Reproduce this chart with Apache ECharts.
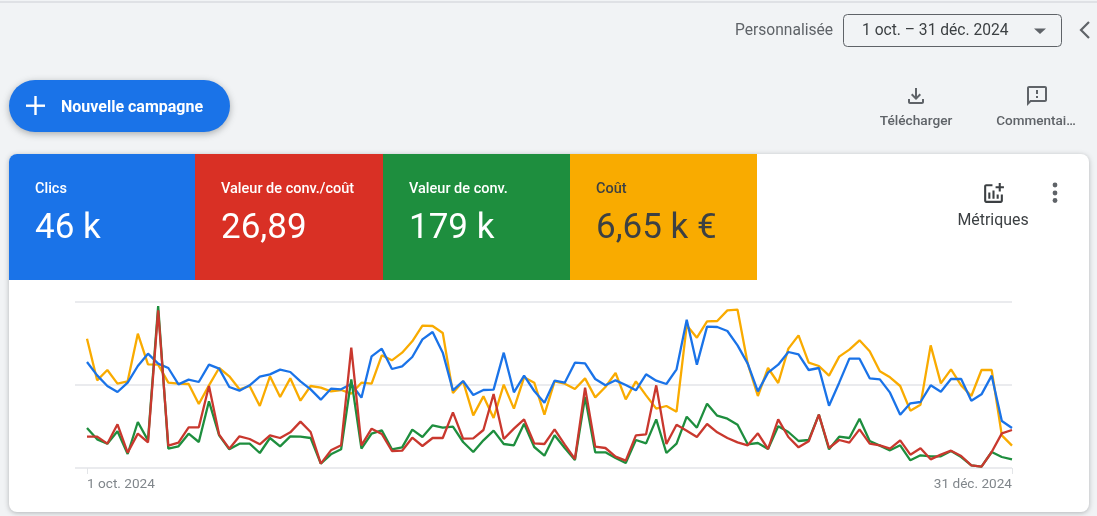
<!DOCTYPE html>
<html lang="fr">
<head>
<meta charset="utf-8">
<style>
  html, body { margin: 0; padding: 0; background: #f1f3f5; }
  #main { width: 1097px; height: 516px; }
</style>
<script src="https://cdn.jsdelivr.net/npm/echarts@6/dist/echarts.min.js"></script>
</head>
<body>
<div id="main"></div>
<script>
// values, in arbitrary units (the chart shows no y labels)
var clics = [318,278,246,228,256,306,343,313,300,251,265,258,310,298,243,232,248,274,281,295,288,260,236,205,238,236,252,211,335,358,297,305,333,386,408,346,233,261,219,234,235,346,227,277,231,196,262,256,316,314,267,248,263,249,233,281,262,252,296,445,310,424,423,411,368,313,230,286,310,348,341,294,300,187,256,328,328,269,266,226,160,194,198,248,229,267,267,202,221,277,141,120];
var cout = [388,263,294,253,260,403,311,310,256,253,252,192,248,300,275,236,246,186,275,213,269,202,246,241,230,234,223,256,253,338,323,346,380,427,426,405,225,260,158,215,150,250,178,272,256,160,260,253,237,269,212,243,285,206,260,218,178,186,169,428,391,440,441,473,475,313,216,300,255,358,398,316,306,277,334,355,383,350,290,272,246,172,190,368,254,296,248,216,294,294,98,67];
var valeurConv = [120,86,73,110,42,138,83,486,58,65,103,78,200,98,56,73,73,45,90,65,95,94,90,13,41,56,266,58,103,113,56,62,115,93,128,121,124,78,48,83,112,72,68,133,63,37,98,60,24,213,47,47,30,15,84,74,146,45,73,154,121,193,157,148,130,71,75,57,125,108,81,84,160,56,94,90,148,81,67,53,68,23,38,35,35,51,33,8,4,48,33,26];
var valeurCout = [94,94,73,131,46,103,77,473,67,76,122,122,246,100,58,95,87,71,98,90,107,139,108,13,53,68,361,68,118,102,51,52,91,66,90,90,167,88,89,114,222,87,118,146,74,72,116,70,27,241,64,60,34,22,98,101,248,72,130,112,93,132,107,90,77,68,104,57,146,93,62,80,160,60,84,76,116,73,68,58,83,40,59,26,40,52,36,8,4,48,104,114];

var moisJours = [31, 30, 31];
var moisNoms = ["oct.", "nov.", "déc."];
var days = [];
moisJours.forEach(function (n, m) {
  for (var d = 1; d <= n; d++) days.push(d + " " + moisNoms[m] + " 2024");
});

var tiles = [
  { label: "Clics", value: "46 k", color: "#1a73e8", text: "#ffffff", x: 9, w: 186 },
  { label: "Valeur de conv./coût", value: "26,89", color: "#d93025", text: "#ffffff", x: 195, w: 188 },
  { label: "Valeur de conv.", value: "179 k", color: "#1e8e3e", text: "#ffffff", x: 383, w: 187 },
  { label: "Coût", value: "6,65 k €", color: "#f9ab00", text: "#3c4043", x: 570, w: 187 }
];

// material icons on a 24 unit box, registered so the graphic component can use them
echarts.graphic.registerShape("iconDownload", echarts.graphic.extendPath("M18 15v3H6v-3H4v3c0 1.1.9 2 2 2h12c1.1 0 2-.9 2-2v-3h-2zm-1-4l-1.41-1.41L13 12.17V4h-2v8.17L8.41 9.59 7 11l5 5 5-5z", {}));
echarts.graphic.registerShape("iconFeedback", echarts.graphic.extendPath("M20 2H4c-1.1 0-1.99.9-1.99 2L2 22l4-4h14c1.1 0 2-.9 2-2V4c0-1.1-.9-2-2-2zm0 14H5.17L4 17.17V4h16v12zM11 12h2v2h-2zm0-6h2v4h-2z", {}));
echarts.graphic.registerShape("iconMetrics", echarts.graphic.extendPath("M22 5v2h-3v3h-2V7h-3V5h3V2h2v3h3zm-3 14H5V5h6V3H5c-1.1 0-2 .9-2 2v14c0 1.1.9 2 2 2h14c1.1 0 2-.9 2-2v-6h-2v6zm-4-6v4h2v-4h-2zm-4 4h2V9h-2v8zm-2 0v-6H7v6h2z", {}));

var FONT = "Roboto";

function txt(x, y, text, size, fill, weight, align) {
  return {
    type: "text", x: x, y: y, z: -5,
    style: {
      text: text, fontFamily: FONT, fontSize: size, fill: fill,
      fontWeight: weight || 400, align: align || "left", verticalAlign: "middle"
    }
  };
}
function icon(name, x, y, size, fill) {
  return {
    type: name, z: -5, x: x, y: y, scaleX: size / 24, scaleY: size / 24,
    style: { fill: fill }
  };
}

var graphics = [
  // page
  { type: "rect", z: -20, shape: { x: 0, y: 0, width: 1097, height: 516 }, style: { fill: "#f1f3f5" } },
  { type: "rect", z: -19, shape: { x: 0, y: 1, width: 1097, height: 2 }, style: { fill: "#dfe1e5" } },
  // top right date picker
  txt(735, 31.5, "Personnalisée", 15.6, "#5f6368"),
  { type: "rect", z: -5, shape: { x: 843.5, y: 14.5, width: 218, height: 32, r: 4 }, style: { fill: "#f1f3f5", stroke: "#5f6368", lineWidth: 1 } },
  txt(862, 31.5, "1 oct. – 31 déc. 2024", 15.6, "#3c4043"),
  { type: "polygon", z: -5, shape: { points: [[1034, 28.5], [1046, 28.5], [1040, 34]] }, style: { fill: "#5f6368" } },
  { type: "polyline", z: -5, shape: { points: [[1089, 22], [1081, 30], [1089, 38]] }, style: { stroke: "#5f6368", lineWidth: 2.2, fill: null } },
  // new campaign button
  { type: "rect", z: -5, shape: { x: 9, y: 80, width: 221, height: 52, r: 26 }, style: { fill: "#1a73e8", shadowBlur: 7, shadowOffsetY: 2, shadowColor: "rgba(60,64,67,0.4)" } },
  { type: "rect", z: -4, shape: { x: 26, y: 104.5, width: 19, height: 2.4 }, style: { fill: "#fff" } },
  { type: "rect", z: -4, shape: { x: 34.3, y: 96, width: 2.4, height: 19 }, style: { fill: "#fff" } },
  txt(61, 107.5, "Nouvelle campagne", 16, "#ffffff", 700),
  // actions
  icon("iconDownload", 904, 84, 24, "#5f6368"),
  txt(916, 122, "Télécharger", 13.7, "#5f6368", 500, "center"),
  icon("iconFeedback", 1025, 84, 24, "#5f6368"),
  txt(1036, 122, "Commentai…", 13.5, "#5f6368", 500, "center"),
  // card
  { type: "rect", z: -15, shape: { x: 9, y: 154, width: 1080, height: 358, r: 8 }, style: { fill: "#ffffff", shadowBlur: 5, shadowOffsetY: 1, shadowColor: "rgba(60,64,67,0.35)" } },
  icon("iconMetrics", 981, 181, 25, "#3c4043"),
  txt(993, 221.5, "Métriques", 15.9, "#3c4043", 400, "center"),
  { type: "circle", z: -5, shape: { cx: 1055, cy: 185, r: 2.4 }, style: { fill: "#5f6368" } },
  { type: "circle", z: -5, shape: { cx: 1055, cy: 193, r: 2.4 }, style: { fill: "#5f6368" } },
  { type: "circle", z: -5, shape: { cx: 1055, cy: 200.5, r: 2.4 }, style: { fill: "#5f6368" } }
];

tiles.forEach(function (t, i) {
  graphics.push({
    type: "rect", z: -10,
    shape: { x: t.x, y: 154, width: t.w, height: 126, r: i === 0 ? [8, 0, 0, 0] : 0 },
    style: { fill: t.color }
  });
  graphics.push(txt(t.x + 26, 189, t.label, 14.5, t.text, 500));
  graphics.push(txt(t.x + 26, 229, t.value, 35, t.text, 400));
});

function lineSeries(name, data, color) {
  return {
    name: name, type: "line", data: data,
    xAxisIndex: 1, yAxisIndex: 1,
    symbol: "none", smooth: false,
    lineStyle: { color: color, width: 2.3 },
    itemStyle: { color: color }
  };
}

var edgeOnly = function (i) { return i === 0 || i === days.length - 1; };

var option = {
  animation: false,
  backgroundColor: "transparent",
  textStyle: { fontFamily: FONT },
  graphic: { elements: graphics },
  // grid 0 only carries the gridlines, they start a bit left of the first point
  grid: [
    { left: 75, right: 85, top: 302, bottom: 48 },
    { left: 87, right: 85, top: 302, bottom: 48 }
  ],
  xAxis: [
    { type: "value", gridIndex: 0, min: 0, max: 1, show: false },
    {
      type: "category", gridIndex: 1, data: days, boundaryGap: false,
      axisLine: { show: false },
      axisTick: { show: true, interval: edgeOnly, length: 6, lineStyle: { color: "#e3e5e8" } },
      axisLabel: {
        interval: edgeOnly, color: "#80868b", fontSize: 13.6, fontFamily: FONT,
        margin: 10, alignMinLabel: "left", alignMaxLabel: "right"
      }
    }
  ],
  yAxis: [
    {
      type: "value", gridIndex: 0, min: 0, max: 498, interval: 249,
      axisLine: { show: false }, axisTick: { show: false }, axisLabel: { show: false },
      splitLine: { show: true, lineStyle: { color: "#e3e5e8", width: 1.5 } }
    },
    { type: "value", gridIndex: 1, min: 0, max: 498, interval: 249, show: false }
  ],
  series: [
    lineSeries("Coût", cout, "#f9ab00"),
    lineSeries("Clics", clics, "#1a73e8"),
    lineSeries("Valeur de conv.", valeurConv, "#1e8e3e"),
    lineSeries("Valeur de conv./coût", valeurCout, "#c9382e")
  ]
};

var chart = echarts.init(document.getElementById("main"));
chart.setOption(option);
</script>
</body>
</html>
